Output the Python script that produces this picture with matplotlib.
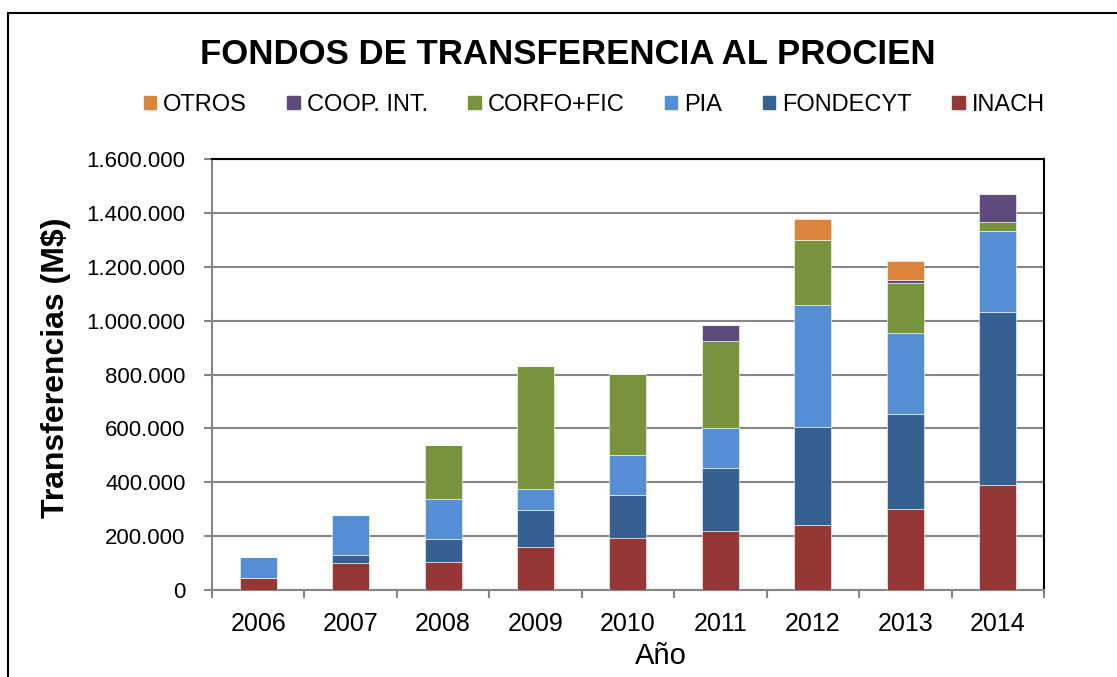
import matplotlib.pyplot as plt
import matplotlib.patches as mpatches
import matplotlib.ticker as mticker
import numpy as np

plt.rcParams['font.family'] = ['Liberation Sans', 'DejaVu Sans']

years = ['2006', '2007', '2008', '2009', '2010', '2011', '2012', '2013', '2014']
inach = [46000, 101000, 105000, 161000, 192000, 219000, 240000, 300000, 391000]
fondecyt = [0, 28000, 83000, 137000, 160000, 233000, 367000, 352000, 640000]
pia = [75000, 151000, 150000, 76000, 151000, 151000, 450000, 302000, 301000]
corfo_fic = [0, 0, 199000, 457000, 299000, 322000, 242000, 187000, 36000]
coop_int = [0, 0, 0, 0, 0, 60000, 0, 10000, 103000]
otros = [0, 0, 0, 0, 0, 0, 78000, 70000, 0]

series = [('INACH', inach, '#953735'),
          ('FONDECYT', fondecyt, '#366092'),
          ('PIA', pia, '#558ED5'),
          ('CORFO+FIC', corfo_fic, '#77933C'),
          ('COOP. INT.', coop_int, '#604A7B'),
          ('OTROS', otros, '#DD843C')]

fig = plt.figure(figsize=(11.17, 6.77), dpi=100)
ax = fig.add_axes([0.1898, 0.1285, 0.7448, 0.6366])

x = np.arange(len(years))
bottom = np.zeros(len(years))
handles = []
for name, vals, color in series:
    vals = np.array(vals, dtype=float)
    ax.bar(x, vals, width=0.4, bottom=bottom, color=color, edgecolor='white', linewidth=0.4, zorder=3)
    bottom += vals
    handles.append(mpatches.Patch(color=color, label=name))

ax.set_xlim(-0.5, len(years) - 0.5)
ax.set_ylim(0, 1600000)
ax.yaxis.set_major_locator(mticker.MultipleLocator(200000))
ax.yaxis.set_major_formatter(mticker.FuncFormatter(lambda v, p: f'{int(v):,}'.replace(',', '.')))
ax.grid(axis='y', color='#868686', linewidth=1.5, zorder=0)

ax.set_xticks(x)
ax.set_xticklabels(years)
ax.set_xticks(np.arange(-0.5, len(years), 1), minor=True)
ax.tick_params(axis='x', which='major', length=0, pad=16, labelsize=18)
ax.tick_params(axis='x', which='minor', length=6, width=1.5, color='#868686')
ax.tick_params(axis='y', length=6, width=1.5, color='#868686', labelsize=16, pad=13)

for s in ['left', 'bottom']:
    ax.spines[s].set_color('#868686')
    ax.spines[s].set_linewidth(1.5)
for s in ['top', 'right']:
    ax.spines[s].set_color('black')
    ax.spines[s].set_linewidth(1.5)

fig.text(0.592, 0.031, 'Año', ha='center', va='center', fontsize=21)
fig.text(0.050, 0.457, 'Transferencias (M$)', ha='center', va='center', rotation=90,
         fontsize=23, fontweight='bold')

fig.text(0.5085, 0.9195, 'FONDOS DE TRANSFERENCIA AL PROCIEN', ha='center', va='center',
         fontsize=25, fontweight='bold')

fig.legend(handles=handles[::-1], loc='center', bbox_to_anchor=(0.532, 0.845), ncol=6,
           frameon=False, fontsize=17, handlelength=0.52, handleheight=0.52,
           handletextpad=0.3, columnspacing=1.72, borderpad=0)

border = mpatches.Rectangle((0.0072, -0.05), 1.1, 1.031, transform=fig.transFigure,
                            fill=False, edgecolor='black', linewidth=1.5, clip_on=False)
fig.patches.append(border)

fig.savefig('out.png', dpi=100)
